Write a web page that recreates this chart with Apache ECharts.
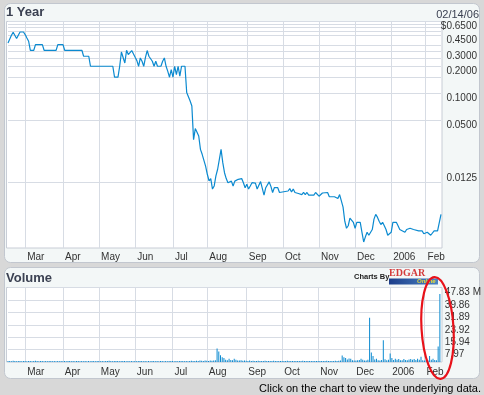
<!DOCTYPE html>
<html><head><meta charset="utf-8">
<script src="https://cdn.jsdelivr.net/npm/echarts@6/dist/echarts.min.js"></script>
<style>html,body{margin:0;padding:0;background:#d8d8d8;}#c{width:484px;height:395px;}</style>
</head><body><div id="c"></div>
<script>
// ---- calendar (trading days) ----
const startDate = '2005-02-14';
const endDate = '2006-02-14';
const holidays = ['2005-02-21','2005-03-25','2005-05-30','2005-07-04','2005-09-05','2005-11-24','2005-12-26','2006-01-02','2006-01-16'];
const monthNames = ['Jan','Feb','Mar','Apr','May','Jun','Jul','Aug','Sep','Oct','Nov','Dec'];

// ---- price (key trading-day index, close $) ----
const priceDay = [0,2,3,4,5,6,7,9,10,11,12,13,15,16,20,21,28,29,32,33,43,44,47,48,61,62,64,65,66,67,68,69,70,72,73,74,75,76,77,78,79,80,81,82,83,84,85,86,87,89,90,91,92,93,94,95,96,97,98,99,100,101,103,104,105,106,107,108,109,110,111,112,113,114,115,116,117,118,119,120,121,122,123,124,125,126,127,128,129,130,131,132,133,134,135,136,137,138,139,140,141,142,143,144,145,146,147,149,150,152,153,154,155,157,158,159,163,164,165,166,167,168,169,170,171,172,173,174,175,178,179,180,181,182,183,184,186,187,190,191,192,193,194,195,196,197,198,199,200,201,202,203,205,206,207,208,209,210,211,212,213,214,215,216,217,218,219,220,221,222,223,224,226,227,228,229,231,232,234,235,236,237,239,241,242,243,244,245,246,247,248,250,251,252];
const priceValue = [0.370,0.452,0.488,0.501,0.415,0.452,0.492,0.492,0.460,0.421,0.387,0.306,0.306,0.355,0.355,0.306,0.306,0.355,0.355,0.306,0.306,0.262,0.262,0.202,0.202,0.152,0.152,0.202,0.293,0.306,0.220,0.306,0.274,0.304,0.304,0.255,0.234,0.202,0.251,0.230,0.202,0.255,0.304,0.262,0.262,0.230,0.202,0.230,0.202,0.202,0.230,0.251,0.202,0.177,0.152,0.185,0.152,0.202,0.163,0.202,0.156,0.202,0.202,0.102,0.102,0.082,0.072,0.030,0.040,0.040,0.033,0.0233,0.0205,0.0196,0.0151,0.0122,0.0103,0.0109,0.0083,0.0090,0.0117,0.0139,0.0180,0.0233,0.0165,0.0127,0.0109,0.0098,0.0094,0.0102,0.0090,0.0102,0.0102,0.0107,0.0109,0.0109,0.0098,0.0086,0.0094,0.0083,0.0090,0.0098,0.0101,0.0097,0.0083,0.0086,0.0101,0.0071,0.0086,0.0100,0.0089,0.0076,0.0086,0.0086,0.0076,0.0079,0.0079,0.0084,0.0077,0.0083,0.0076,0.0079,0.0074,0.0077,0.0072,0.0076,0.0072,0.0076,0.0071,0.0071,0.0076,0.0076,0.0069,0.0071,0.0075,0.0076,0.0076,0.0068,0.0068,0.0065,0.0065,0.0072,0.0073,0.0052,0.0036,0.0030,0.0032,0.0039,0.0039,0.0035,0.0030,0.0035,0.0035,0.0027,0.0021,0.0024,0.0027,0.0025,0.0025,0.0029,0.0038,0.0043,0.0040,0.0036,0.0033,0.0035,0.0032,0.0029,0.0025,0.0025,0.0027,0.0035,0.0035,0.0032,0.0029,0.0029,0.0027,0.0029,0.0030,0.0031,0.0029,0.0029,0.0028,0.0028,0.0026,0.0025,0.0027,0.0026,0.0025,0.0025,0.0028,0.0028,0.0027,0.0043];

// ---- price axis ----
const priceGridValues = [0.65,0.6,0.55,0.5,0.45,0.35,0.3,0.25,0.2,0.15,0.1,0.05,0.0125];
const priceTickValues = [0.65,0.45,0.3,0.2,0.1,0.05,0.0125];
const priceTickLabels = ['$0.6500','0.4500','0.3000','0.2000','0.1000','0.0500','0.0125'];
const priceMin = 0.001795, priceMax = 0.65;

// ---- volume (millions), one value per trading day, by month ----
const volFeb05 = [0.7,0.6,0.5,0.8,0.6,0.5,0.7,0.6,0.5,0.6];
const volMar05 = [0.6,0.5,0.7,0.6,0.5,0.6,0.8,0.6,0.5,0.6,0.7,0.5,0.6,0.5,0.6,0.7,0.5,0.6,0.5,0.6,0.5,0.6];
const volApr05 = [0.5,0.6,0.5,0.7,0.6,0.5,0.6,0.5,0.6,0.7,0.5,0.6,0.5,0.6,0.5,0.6,0.5,0.7,0.6,0.5,0.6];
const volMay05 = [0.6,0.5,0.6,0.5,0.7,0.6,0.8,0.6,0.5,0.6,0.7,0.6,0.5,0.6,0.7,0.6,0.5,0.6,0.5,0.6,0.5];
const volJun05 = [0.6,0.5,0.6,0.7,0.6,0.5,0.6,0.5,0.6,0.5,0.7,0.6,0.5,0.6,0.5,0.6,0.7,0.5,0.6,0.5,0.6,0.7];
const volJul05 = [0.6,0.5,0.6,0.5,0.6,0.7,0.6,0.5,0.6,0.5,0.6,0.8,0.7,0.6,0.8,0.7,0.9,0.8,0.7,0.9];
const volAug05 = [0.8,0.7,0.9,0.8,1.0,1.2,8.6,6.7,4.4,3.1,2.5,1.4,1.2,2.1,1.3,1.1,2.1,1.5,1.0,0.9,1.2,0.8,0.9];
const volSep05 = [0.8,0.7,0.9,0.7,0.8,0.6,0.7,0.8,0.6,0.7,0.6,0.8,0.7,0.6,0.7,0.6,0.8,0.7,0.6,0.7,0.6];
const volOct05 = [0.6,0.7,0.6,0.8,0.6,0.7,0.6,0.7,0.6,0.6,0.7,0.6,0.8,0.6,0.7,0.6,0.7,0.6,0.7,0.6,0.7];
const volNov05 = [0.6,0.7,0.6,0.7,0.6,0.8,0.7,0.6,0.7,0.6,0.8,0.7,0.8,0.9,4.2,3.1,2.5,1.6,2.3,2.1,1.2];
const volDec05 = [1.0,0.9,1.1,1.3,2.1,1.4,1.0,0.9,1.5,28.4,6.1,3.8,1.6,2.1,1.2,1.0,1.3,13.9,1.7,1.1,1.4];
const volJan06 = [5.5,2.5,1.3,2.1,1.5,1.9,1.2,1.1,1.9,1.3,1.2,1.6,1.9,1.4,1.9,1.3,2.1,1.5,3.3,1.2];
const volFeb06 = [1.0,1.4,1.2,3.8,1.5,2.1,1.3,1.2,9.9,43.6];
const volTickLabels = ['7.97','15.94','23.92','31.89','39.86','47.83 M'];
const volMax = 47.83;

// ---- build ----
function tradingDays() {
  const out = [];
  const d = new Date(startDate + 'T00:00:00Z');
  const end = new Date(endDate + 'T00:00:00Z');
  while (d <= end) {
    const s = d.toISOString().slice(0, 10);
    const wd = d.getUTCDay();
    if (wd !== 0 && wd !== 6 && holidays.indexOf(s) < 0) out.push(s);
    d.setUTCDate(d.getUTCDate() + 1);
  }
  return out;
}
const days = tradingDays();
const monthStart = {};
days.forEach((s, i) => { if (i > 0 && s.slice(0, 7) !== days[i - 1].slice(0, 7)) monthStart[i] = true; });
const volume = [].concat(volFeb05, volMar05, volApr05, volMay05, volJun05, volJul05, volAug05, volSep05, volOct05, volNov05, volDec05, volJan06, volFeb06);
const priceData = priceDay.map((d, i) => [d, priceValue[i]]);

const FONT = 'Liberation Sans';
const gridColor = '#d7dce4';
const lineBlue = '#0b8ad0';
function monthLabel(v) {
  const m = +v.slice(5, 7);
  return m === 1 ? v.slice(0, 4) : monthNames[m - 1];
}
function xAxisFor(gi, margin) {
  return {
    type: 'category', gridIndex: gi, data: days, boundaryGap: false,
    axisLine: { show: false }, axisTick: { show: false },
    splitLine: { show: true, interval: (i) => !!monthStart[i], lineStyle: { color: gridColor, width: 1 } },
    axisLabel: { interval: (i) => !!monthStart[i], formatter: monthLabel, align: 'left', padding: [0, 0, 0, 2],
      margin: margin, verticalAlign: 'top', fontSize: 10, color: '#333', fontFamily: FONT, hideOverlap: false }
  };
}

const chart = echarts.init(document.getElementById('c'), null, { renderer: 'canvas' });
chart.setOption({
  animation: false,
  backgroundColor: '#d8d8d8',
  textStyle: { fontFamily: FONT },
  title: [
    { text: '1 Year', left: 6, top: 6, padding: 0, textStyle: { fontSize: 13, fontWeight: 'bold', color: '#3b4152', fontFamily: FONT } },
    { text: '02/14/06', right: 5, top: 9, padding: 0, textStyle: { fontSize: 11, fontWeight: 'normal', color: '#3b4152', fontFamily: FONT } },
    { text: 'Volume', left: 6, top: 272, padding: 0, textStyle: { fontSize: 13, fontWeight: 'bold', color: '#3b4152', fontFamily: FONT } },
    { text: 'Charts By', left: 354, top: 273, padding: 0, textStyle: { fontSize: 7.5, fontWeight: 'bold', color: '#222', fontFamily: FONT } },
    { text: 'Click on the chart to view the underlying data.', right: 3, top: 383, padding: 0, textStyle: { fontSize: 11, fontWeight: 'normal', color: '#000', fontFamily: FONT } }
  ],
  graphic: [
    { type: 'rect', z: -10, shape: { x: 4.5, y: 3.5, width: 475, height: 259, r: 6 }, style: { fill: '#f3f7f7', stroke: '#c2c7cf', lineWidth: 1 } },
    { type: 'rect', z: -10, shape: { x: 4.5, y: 267.5, width: 475, height: 111, r: 6 }, style: { fill: '#f3f7f7', stroke: '#c2c7cf', lineWidth: 1 } },
    { type: 'rect', z: -9, shape: { x: 6.5, y: 21.5, width: 435.5, height: 226.5 }, style: { fill: '#ffffff', stroke: '#c8cdd6', lineWidth: 1 } },
    { type: 'rect', z: -9, shape: { x: 6.5, y: 287.5, width: 435.5, height: 74.5 }, style: { fill: '#ffffff', stroke: '#c8cdd6', lineWidth: 1 } },
    { type: 'text', z: 20, x: 389, y: 268, style: { text: 'EDGAR', font: 'bold 10px "Liberation Serif"', fill: '#d43a3a' } },
    { type: 'rect', z: 20, shape: { x: 389, y: 278.5, width: 49, height: 6 },
      style: { fill: new echarts.graphic.LinearGradient(0, 0, 1, 0, [{ offset: 0, color: '#1c3d8a' }, { offset: 1, color: '#4a84c4' }]) } },
    { type: 'text', z: 21, x: 417, y: 278.3, style: { text: 'Online', font: 'italic bold 6px "Liberation Sans"', fill: '#e8dc3c' } },
    { type: 'ellipse', z: 100, x: 437.5, y: 328, rotation: 0.06, shape: { cx: 0, cy: 0, rx: 16, ry: 51 },
      style: { fill: 'none', stroke: '#e8121a', lineWidth: 2.2 } }
  ],
  grid: [
    { left: 8, right: 43, top: 21.3, height: 226.7, show: false },
    { left: 8, right: 43, top: 287.5, height: 74.5, show: false }
  ],
  xAxis: [xAxisFor(0, 4), xAxisFor(1, 5)],
  yAxis: [
    { type: 'log', logBase: 10, gridIndex: 0, position: 'right', min: priceMin, max: priceMax,
      axisLine: { show: false }, axisTick: { show: false }, splitLine: { show: false },
      axisLabel: { customValues: priceTickValues,
        formatter: (v) => { let best = 0; priceTickValues.forEach((t, i) => { if (Math.abs(Math.log(t / v)) < Math.abs(Math.log(priceTickValues[best] / v))) best = i; }); return priceTickLabels[best]; },
        align: 'right', margin: 36, verticalAlign: 'top', fontSize: 10, color: '#333', fontFamily: FONT } },
    { type: 'value', gridIndex: 1, position: 'right', min: 0, max: volMax, interval: volMax / 6,
      axisLine: { show: false }, axisTick: { show: false },
      splitLine: { show: true, lineStyle: { color: gridColor, width: 1 } },
      axisLabel: { formatter: (v) => { const k = Math.round(v / (volMax / 6)); return k > 0 ? volTickLabels[k - 1] : ''; },
        align: 'left', margin: 5, verticalAlign: 'top', fontSize: 10, color: '#333', fontFamily: FONT } }
  ],
  series: [
    { type: 'line', name: 'Price', xAxisIndex: 0, yAxisIndex: 0, z: 10, data: priceData, showSymbol: false, silent: true,
      lineStyle: { color: lineBlue, width: 1.2 },
      markLine: { silent: true, symbol: ['none', 'none'], label: { show: false }, animation: false,
        lineStyle: { color: gridColor, width: 1, type: 'solid' },
        data: priceGridValues.map((v) => ({ yAxis: v })) } },
    { type: 'bar', name: 'Volume', xAxisIndex: 1, yAxisIndex: 1, z: 10, data: volume, barWidth: 1, silent: true,
      itemStyle: { color: lineBlue } }
  ]
});
</script>
</body></html>
